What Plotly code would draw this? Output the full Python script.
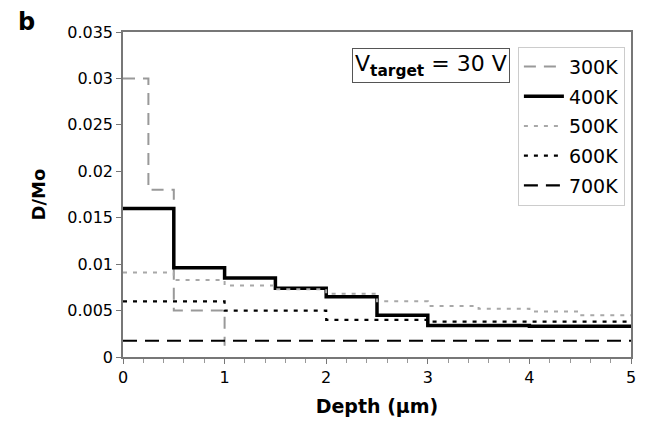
import plotly.graph_objects as go

# Step profiles (x = layer start depths, last point = end of profile)
x_300 = [0, 0.25, 0.5, 1.0, 1.0]
y_300 = [0.030, 0.018, 0.005, 0.0012, 0.0012]

x_400 = [0, 0.5, 1.0, 1.5, 2.0, 2.5, 3.0, 4.0, 5.0]
y_400 = [0.016, 0.0096, 0.0085, 0.0074, 0.0065, 0.0045, 0.0034, 0.0033, 0.0033]

x_500 = [0, 0.5, 1.0, 1.5, 2.0, 2.5, 3.0, 3.5, 4.0, 4.5, 5.0]
y_500 = [0.0091, 0.0083, 0.0077, 0.0073, 0.0068, 0.0060, 0.0055, 0.0052, 0.0049, 0.0045, 0.0045]

x_600 = [0, 1.0, 2.0, 3.0, 5.0]
y_600 = [0.0060, 0.0050, 0.0040, 0.0038, 0.0038]

x_700 = [0, 5.0]
y_700 = [0.00175, 0.00175]

y_ticks = [0, 0.005, 0.01, 0.015, 0.02, 0.025, 0.03, 0.035]
y_tick_text = ["0", "0.005", "0.01", "0.015", "0.02", "0.025", "0.03", "0.035"]
x_ticks = [0, 1, 2, 3, 4, 5]

series = [
    ("300K", x_300, y_300, "#999999", 2, "12px,8px"),
    ("400K", x_400, y_400, "#000000", 3.5, "solid"),
    ("500K", x_500, y_500, "#a8a8a8", 2, "4px,6px"),
    ("600K", x_600, y_600, "#000000", 2.2, "4px,6px"),
    ("700K", x_700, y_700, "#000000", 2.2, "14px,8px"),
]

FONT = "DejaVu Sans"

fig = go.Figure()
for i, (name, xs, ys, col, w, dash) in enumerate(series):
    fig.add_trace(go.Scatter(
        x=xs, y=ys, mode="lines", name=name, line_shape="hv",
        line=dict(color=col, width=w, dash=dash), legendgroup=f"g{i}",
    ))

fig.update_layout(
    width=648, height=426,
    margin=dict(l=123, r=13, t=32, b=68),
    paper_bgcolor="white", plot_bgcolor="white",
    font=dict(family=FONT, color="black"),
    showlegend=True,
    legend=dict(
        x=0.988, y=0.955, xanchor="right", yanchor="top",
        bordercolor="#cccccc", borderwidth=1, bgcolor="white",
        font=dict(size=19, family=FONT), tracegroupgap=2, itemwidth=40,
    ),
    xaxis=dict(
        range=[0, 5], tickvals=x_ticks, ticks="outside", ticklen=5,
        tickcolor="#777", showline=True, linecolor="#777", linewidth=1.5,
        mirror=True, showgrid=False, zeroline=False,
        tickfont=dict(size=16, family=FONT),
        minor=dict(dtick=0.2, ticks="outside", ticklen=4, tickcolor="#999"),
        title=dict(text="<b>Depth (μm)</b>", font=dict(size=19, family=FONT), standoff=14),
    ),
    yaxis=dict(
        range=[0, 0.035], tickvals=y_ticks, ticktext=y_tick_text,
        ticks="outside", ticklen=5, tickcolor="#777",
        showline=True, linecolor="#777", linewidth=1.5, mirror=True,
        showgrid=False, zeroline=False, tickfont=dict(size=16, family=FONT),
        title=dict(text="<b>D/Mo</b>", font=dict(size=18, family=FONT), standoff=17),
    ),
    annotations=[
        dict(text="V<sub><b>target</b></sub> = 30 V", xref="paper", yref="paper",
             x=0.451, y=0.95, xanchor="left", yanchor="top", showarrow=False,
             font=dict(size=22, family=FONT), bordercolor="#555", borderwidth=1,
             borderpad=2, bgcolor="white"),
        dict(text="<b>b</b>", xref="paper", yref="paper", x=-0.21, y=1.08,
             xanchor="left", yanchor="top", showarrow=False,
             font=dict(size=24, family=FONT)),
    ],
)

fig.write_html("out.html")
